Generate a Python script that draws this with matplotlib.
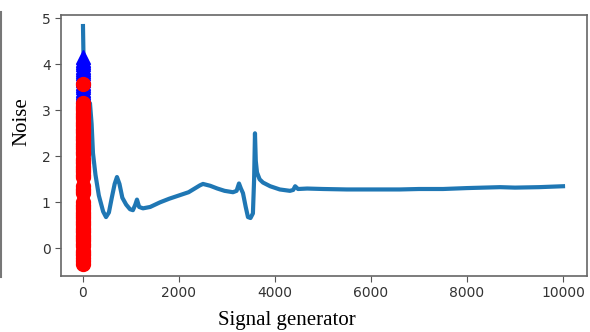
import matplotlib
matplotlib.use("Agg")
import matplotlib.pyplot as plt
from matplotlib.lines import Line2D

# Noise curve
curve_x = [0, 20, 60, 100, 146, 180, 208, 260, 330, 420, 480, 540, 600, 660, 708,
           760, 820, 900, 980, 1040, 1090, 1125, 1170, 1250, 1400, 1604, 1800,
           2000, 2200, 2437, 2500, 2650, 2800, 2950, 3125, 3200, 3250, 3290, 3333,
           3390, 3437, 3490, 3540, 3565, 3583, 3600, 3625, 3680, 3750, 3900, 4100,
           4312, 4380, 4420, 4480, 4670, 5000, 5500, 6000, 6600, 7000, 7500, 8000,
           8690, 9000, 9500, 10000]
curve_y = [4.83, 3.6, 3.3, 3.2, 3.15, 2.7, 2.07, 1.6, 1.15, 0.8, 0.68, 0.78, 1.1, 1.4, 1.55,
           1.4, 1.1, 0.95, 0.85, 0.83, 0.95, 1.06, 0.9, 0.87, 0.9, 1.0, 1.08,
           1.15, 1.22, 1.37, 1.4, 1.36, 1.3, 1.25, 1.22, 1.25, 1.41, 1.3, 1.2,
           0.9, 0.68, 0.66, 0.76, 1.5, 2.5, 1.9, 1.65, 1.5, 1.43, 1.35, 1.28,
           1.25, 1.27, 1.35, 1.29, 1.30, 1.29, 1.28, 1.28, 1.28, 1.29, 1.29, 1.31,
           1.33, 1.32, 1.33, 1.35]

# Marker columns at x = 0
blue_x = 0
blue_y = [4.15, 4.1, 4.05, 4.0, 3.95, 3.9, 3.85, 3.8, 3.75, 3.7, 3.65, 3.6, 3.55,
          3.5, 3.45, 3.4, 3.35, 3.3, 3.2, 3.0, 2.75, 2.5, 2.25, 2.0, 1.75, 1.45,
          1.1, 0.8, 0.5, 0.25, 0.0, -0.1]
red_y_top = [3.57]
red_y = [3.15, 3.1, 3.05, 3.0, 2.95, 2.9, 2.85, 2.8, 2.75, 2.7, 2.65, 2.6, 2.55,
         2.5, 2.45, 2.4, 2.35, 2.3, 2.25, 2.2, 2.15, 2.1, 2.05, 1.95, 1.9, 1.85,
         1.8, 1.75, 1.7, 1.65, 1.6, 1.55, 1.35, 1.3, 1.25, 1.2, 1.0, 0.95, 0.9,
         0.85, 0.8, 0.75, 0.7, 0.65, 0.6, 0.55, 0.5, 0.45, 0.4, 0.35, 0.3, 0.25,
         0.2, 0.15, 0.1, 0.05, -0.05, -0.1, -0.15, -0.2, -0.28, -0.33]
red_x = 0

xticks = [0, 2000, 4000, 6000, 8000, 10000]
yticks = [0, 1, 2, 3, 4, 5]

fig = plt.figure(figsize=(5.9, 3.32), dpi=100)
W, H = 590, 332
L, R, T, B = 61, 587, 15, 276
ax = fig.add_axes([L / W, 1 - B / H, (R - L) / W, (B - T) / H])

ax.plot(curve_x, curve_y, color="#1f77b4", lw=3.0, solid_joinstyle="round", zorder=2)
ax.plot([blue_x] * len(blue_y), blue_y, linestyle="none", marker="^", ms=10,
        color="blue", zorder=3)
red_all = red_y_top + red_y
ax.plot([red_x] * len(red_all), red_all, linestyle="none", marker="o", ms=10,
        color="red", zorder=4)

ax.set_xlim(-458, 10500)
ax.set_ylim(-0.6, 5.07)
ax.set_xticks(xticks)
ax.set_yticks(yticks)
ax.tick_params(labelsize=10, labelcolor="#333333", color="#555555", length=4)
for s in ax.spines.values():
    s.set_color("#666666")
    s.set_linewidth(1.2)

fig.text(287 / W, 1 - 320 / H, "Signal generator", ha="center", va="center",
         family=["Liberation Serif", "DejaVu Serif"], fontsize=15)
fig.text(22 / W, 1 - 122 / H, "Noise", ha="center", va="center", rotation=90,
         family=["Liberation Serif", "DejaVu Serif"], fontsize=15)

fig.add_artist(Line2D([1 / W, 1 / W], [1 - 12 / H, 1 - 277 / H], color="#777777",
                      lw=1.5, transform=fig.transFigure))

fig.savefig("out.png", dpi=100)
